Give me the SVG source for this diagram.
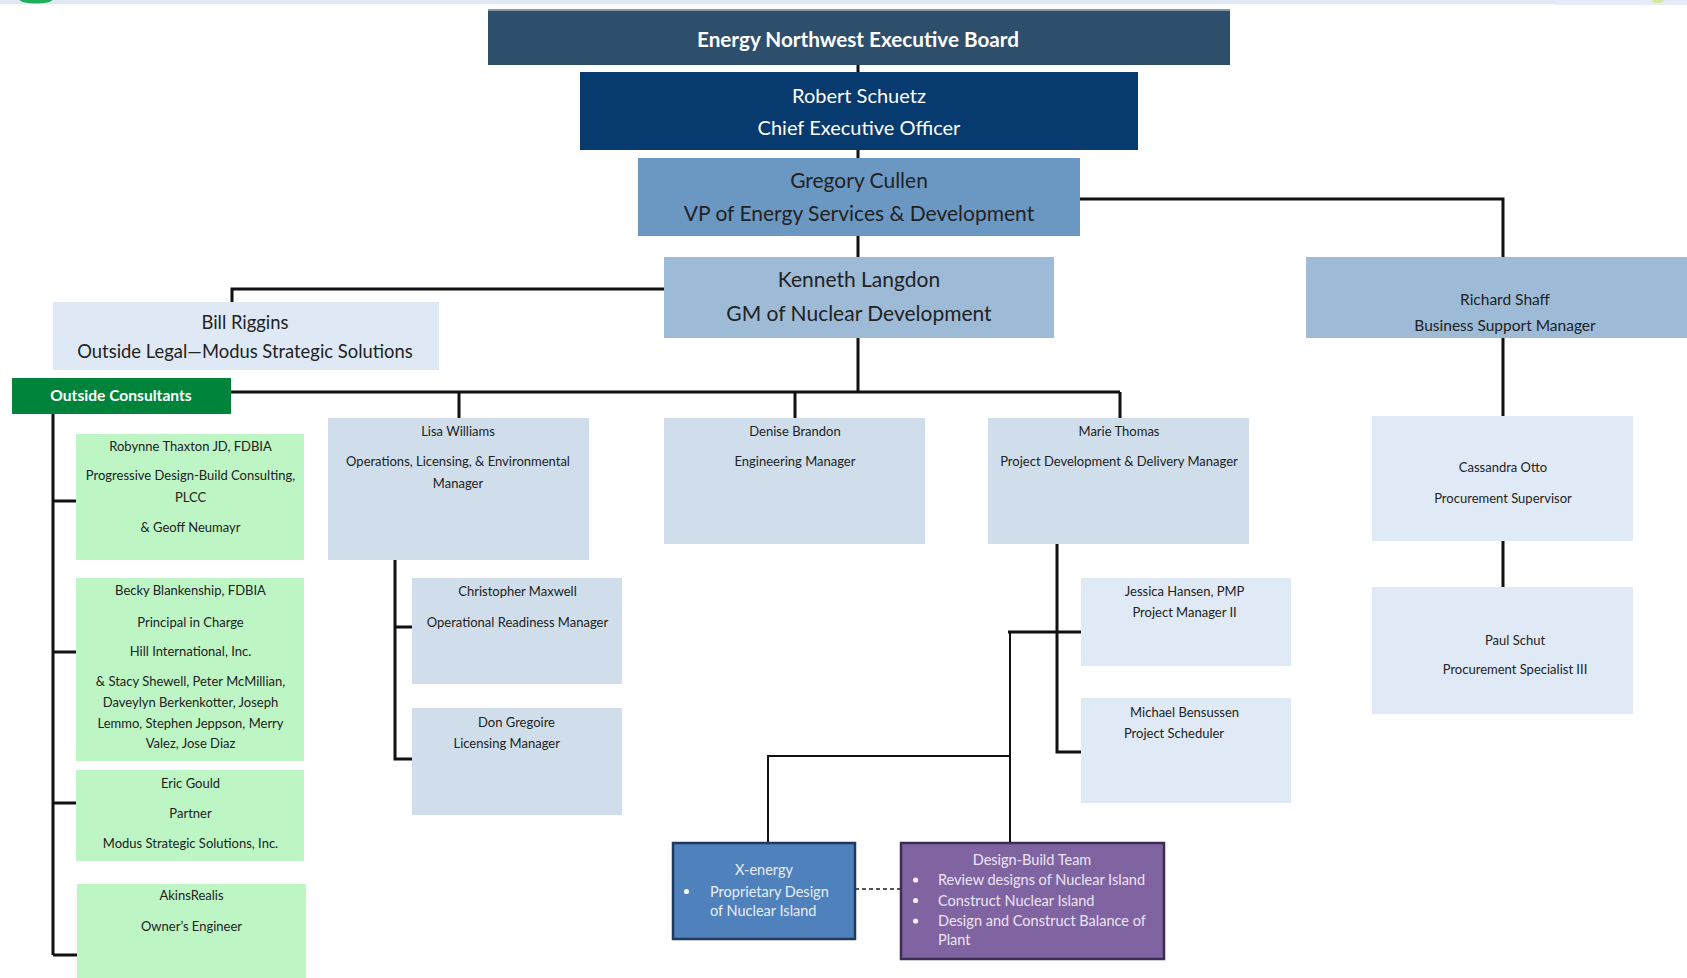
<svg xmlns="http://www.w3.org/2000/svg" width="1687" height="978" viewBox="0 0 1687 978">
<style>
text{font-family:Lato,"Open Sans","Liberation Sans",sans-serif;text-anchor:middle;fill:#222}
.w{fill:#ffffff}
.b{font-weight:bold}
.lt{fill:#e9eef7}
.lp{fill:#ece4f4}
.s13{font-size:13px}
.s14{font-size:14.5px}
.s15{font-size:15.5px}
.s18{font-size:18.4px}
.s20{font-size:20px}
.s21{font-size:21px}
.st{text-anchor:start}
.c{fill:none;stroke:#111;stroke-width:3}
.t{fill:none;stroke:#111;stroke-width:2}
.d{fill:none;stroke:#555;stroke-width:2;stroke-dasharray:4 3}
.pale{fill:#cfdeea}
.pale2{fill:#dfeaf6}
.grn{fill:#bdf5c5}
.mid{fill:#9dbad7}
</style>
<rect x="0" y="0" width="1687" height="4" fill="#dfe9f5"/>
<ellipse cx="36" cy="0" rx="16" ry="3.5" fill="#1fae5a"/>
<rect x="1555" y="0" width="132" height="5" fill="#e4ecf6"/>
<ellipse cx="1658" cy="0" rx="6" ry="3" fill="#d4e79a"/>
<g id="connectors">
<path class="c" d="M858 65V72M858 150V158M858 236V257"/>
<path class="c" d="M1080 199H1503V257"/>
<path class="c" d="M664 289H232V302"/>
<path class="c" d="M858 338V392M231 392H1120M459 392V418M795 392V418M1120 392V418"/>
<path class="c" d="M53 414V955M53 501H76M53 652H76M53 803H76M53 955H77"/>
<path class="c" d="M395 560V759H412M395 627H412"/>
<path class="c" d="M1057 544V752H1081M1008 632H1081"/>
<path class="t" d="M1010 632V842M1010 756H768V842"/>
<path class="c" d="M1503 338V416M1503 541V587"/>
<path class="d" d="M855 889H900"/>
</g>
<g id="board">
<rect x="488" y="10" width="742" height="55" fill="#2d4f6c"/>
<rect x="488" y="9" width="742" height="2" fill="#8797a8"/>
<text class="w b" style="font-size:20.7px" x="858" y="47">Energy Northwest Executive Board</text>
</g>
<g id="ceo">
<rect x="580" y="72" width="558" height="78" fill="#073a6e"/>
<text class="w s20" x="859" y="103">Robert Schuetz</text>
<text class="w s20" x="859" y="135">Chief Executive Officer</text>
</g>
<g id="cullen">
<rect x="638" y="158" width="442" height="78" fill="#6b97c3"/>
<text class="s21" x="859" y="188">Gregory Cullen</text>
<text class="s21" x="859" y="221">VP of Energy Services &amp; Development</text>
</g>
<g id="langdon">
<rect class="mid" x="664" y="257" width="390" height="81"/>
<text class="s21" x="859" y="287">Kenneth Langdon</text>
<text class="s21" x="859" y="321">GM of Nuclear Development</text>
</g>
<g id="riggins">
<rect x="53" y="302" width="386" height="68" fill="#dfe9f5"/>
<text class="s18" x="245" y="329">Bill Riggins</text>
<text class="s18" x="245" y="358">Outside Legal—Modus Strategic Solutions</text>
</g>
<g id="consultants">
<rect x="12" y="378" width="219" height="36" fill="#00843c"/>
<text class="w b" style="font-size:15.6px" x="121" y="401">Outside Consultants</text>
</g>
<g id="shaff">
<rect class="mid" x="1306" y="257" width="381" height="81"/>
<text class="s15" x="1505" y="304.5">Richard Shaff</text>
<text class="s15" x="1505" y="330.5">Business Support Manager</text>
</g>
<g id="williams">
<rect class="pale" x="328" y="418" width="261" height="142"/>
<text class="s13" x="458" y="436">Lisa Williams</text>
<text class="s13" x="458" y="466">Operations, Licensing, &amp; Environmental</text>
<text class="s13" x="458" y="487.5">Manager</text>
</g>
<g id="brandon">
<rect class="pale" x="664" y="418" width="261" height="126"/>
<text class="s13" x="795" y="436">Denise Brandon</text>
<text class="s13" x="795" y="466">Engineering Manager</text>
</g>
<g id="thomas">
<rect class="pale" x="988" y="418" width="261" height="126"/>
<text class="s13" x="1119" y="436">Marie Thomas</text>
<text class="s13" x="1119" y="466">Project Development &amp; Delivery Manager</text>
</g>
<g id="otto">
<rect class="pale2" x="1372" y="416" width="261" height="125"/>
<text class="s13" x="1503" y="471.5">Cassandra Otto</text>
<text class="s13" x="1503" y="503">Procurement Supervisor</text>
</g>
<g id="schut">
<rect class="pale2" x="1372" y="587" width="261" height="127"/>
<text class="s13" x="1515" y="644.5">Paul Schut</text>
<text class="s13" x="1515" y="673.5">Procurement Specialist III</text>
</g>
<g id="thaxton">
<rect class="grn" x="76" y="434" width="228" height="126"/>
<text class="s13" x="190.5" y="451">Robynne Thaxton JD, FDBIA</text>
<text class="s13" x="190.5" y="480">Progressive Design-Build Consulting,</text>
<text class="s13" x="190.5" y="501.5">PLCC</text>
<text class="s13" x="190.5" y="531.5">&amp; Geoff Neumayr</text>
</g>
<g id="blankenship">
<rect class="grn" x="76" y="578" width="228" height="183"/>
<text class="s13" x="190.5" y="595">Becky Blankenship, FDBIA</text>
<text class="s13" x="190.5" y="626.5">Principal in Charge</text>
<text class="s13" x="190.5" y="655.5">Hill International, Inc.</text>
<text class="s13" x="190.5" y="685.5">&amp; Stacy Shewell, Peter McMillian,</text>
<text class="s13" x="190.5" y="707">Daveylyn Berkenkotter, Joseph</text>
<text class="s13" x="190.5" y="727.5">Lemmo, Stephen Jeppson, Merry</text>
<text class="s13" x="190.5" y="748">Valez, Jose Diaz</text>
</g>
<g id="gould">
<rect class="grn" x="76" y="770" width="228" height="91"/>
<text class="s13" x="190.5" y="787.5">Eric Gould</text>
<text class="s13" x="190.5" y="817.5">Partner</text>
<text class="s13" x="190.5" y="848">Modus Strategic Solutions, Inc.</text>
</g>
<g id="akinsrealis">
<rect class="grn" x="77" y="884" width="229" height="94"/>
<text class="s13" x="191.5" y="899.5">AkinsRealis</text>
<text class="s13" x="191.5" y="930.5">Owner’s Engineer</text>
</g>
<g id="maxwell">
<rect class="pale" x="412" y="578" width="210" height="106"/>
<text class="s13" x="517.5" y="596">Christopher Maxwell</text>
<text class="s13" x="517.5" y="626.5">Operational Readiness Manager</text>
</g>
<g id="gregoire">
<rect class="pale" x="412" y="708" width="210" height="107"/>
<text class="s13" x="516.5" y="726.5">Don Gregoire</text>
<text class="s13" x="506.7" y="748">Licensing Manager</text>
</g>
<g id="hansen">
<rect class="pale2" x="1081" y="578" width="210" height="88"/>
<text class="s13" x="1184.6" y="596">Jessica Hansen, PMP</text>
<text class="s13" x="1184.6" y="616.5">Project Manager II</text>
</g>
<g id="bensussen">
<rect class="pale2" x="1081" y="698" width="210" height="105"/>
<text class="s13" x="1184.6" y="716.5">Michael Bensussen</text>
<text class="s13" x="1174" y="738">Project Scheduler</text>
</g>
<g id="xenergy">
<rect x="673" y="843" width="182" height="96" fill="#4f81bd" stroke="#1f3a5f" stroke-width="2.5"/>
<text class="lt s14" x="764" y="875">X-energy</text>
<circle cx="686.5" cy="891.5" r="2.6" fill="#f4f7fb"/>
<text class="lt s14 st" x="710" y="897">Proprietary Design</text>
<text class="lt s14 st" x="710" y="916">of Nuclear Island</text>
</g>
<g id="designbuild">
<rect x="901" y="843" width="263" height="116" fill="#8064a2" stroke="#3c2d55" stroke-width="2.5"/>
<text class="lp s14" x="1032" y="864.5">Design-Build Team</text>
<circle cx="915.6" cy="880" r="2.6" fill="#f4f0f8"/>
<circle cx="915.6" cy="900.5" r="2.6" fill="#f4f0f8"/>
<circle cx="915.6" cy="921" r="2.6" fill="#f4f0f8"/>
<text class="lp s14 st" x="938" y="885">Review designs of Nuclear Island</text>
<text class="lp s14 st" x="938" y="905.5">Construct Nuclear Island</text>
<text class="lp s14 st" x="938" y="926">Design and Construct Balance of</text>
<text class="lp s14 st" x="938" y="945">Plant</text>
</g>
</svg>
